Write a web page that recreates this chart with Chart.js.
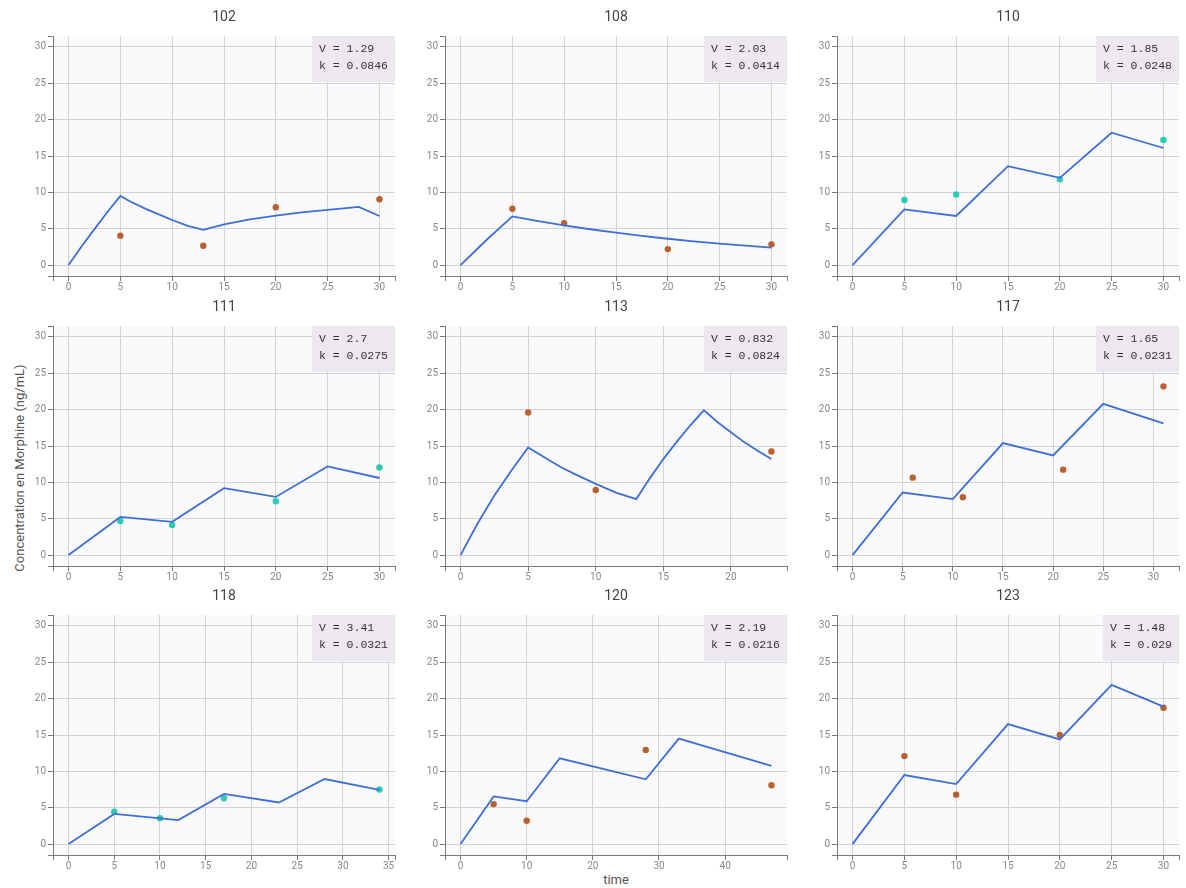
<!DOCTYPE html>
<html>
<head>
<meta charset="utf-8">
<script src="https://cdn.jsdelivr.net/npm/chart.js@4"></script>
<style>
  body { margin: 0; background: #fff; width: 1186px; height: 888px; position: relative; overflow: hidden; font-family: Roboto, sans-serif; }
  canvas.panel { position: absolute; }
  #ylab { position: absolute; left: 19px; top: 468px; transform: translate(-50%, -50%) rotate(-90deg); white-space: nowrap; font-size: 13px; color: #555; }
  #xlab { position: absolute; left: 616px; top: 879px; transform: translate(-50%, -50%); font-size: 13px; color: #555; }
</style>
</head>
<body>
<div id="ylab">Concentration en Morphine (ng/mL)</div>
<div id="xlab">time</div>
<script>
// panel ids and fitted parameters
const ids = ['102', '108', '110', '111', '113', '117', '118', '120', '123'];
const paramV = ['1.29', '2.03', '1.85', '2.7', '0.832', '1.65', '3.41', '2.19', '1.48'];
const paramK = ['0.0846', '0.0414', '0.0248', '0.0275', '0.0824', '0.0231', '0.0321', '0.0216', '0.029'];

// model curve (blue line)
const predT = [
  [0, 1.25, 2.5, 3.75, 5, 6, 7.5, 9, 10, 11.5, 13, 15, 17.5, 20, 22.5, 25, 28, 30],
  [0, 2.5, 5, 7.5, 10, 12.5, 15, 17.5, 20, 22.5, 25, 27.5, 30],
  [0, 5, 10, 15, 20, 25, 30],
  [0, 5, 10, 15, 20, 25, 30],
  [0, 1.25, 2.5, 3.75, 5, 6.5, 7.5, 8.5, 10, 11.5, 13, 14, 15, 16, 17, 18, 19, 20, 21, 22, 23],
  [0, 5, 10, 15, 20, 25, 31],
  [0, 5, 12, 17, 23, 28, 34],
  [0, 5, 10, 15, 28, 33, 47],
  [0, 5, 10, 15, 20, 25, 30]
];
const predC = [
  [0, 2.55, 4.95, 7.3, 9.5, 8.7, 7.7, 6.8, 6.2, 5.4, 4.85, 5.6, 6.3, 6.8, 7.25, 7.6, 8.0, 6.75],
  [0, 3.45, 6.7, 6.05, 5.45, 4.93, 4.45, 4.02, 3.62, 3.27, 2.95, 2.67, 2.4],
  [0, 7.65, 6.75, 13.6, 12.0, 18.2, 16.1],
  [0, 5.25, 4.58, 9.2, 8.0, 12.2, 10.6],
  [0, 4.3, 8.2, 11.6, 14.8, 13.1, 12.0, 11.1, 9.8, 8.6, 7.7, 10.55, 13.2, 15.6, 17.85, 19.9, 18.3, 16.9, 15.5, 14.3, 13.2],
  [0, 8.6, 7.7, 15.4, 13.7, 20.8, 18.1],
  [0, 4.15, 3.3, 6.9, 5.72, 8.95, 7.45],
  [0, 6.55, 5.9, 11.8, 8.9, 14.5, 10.75],
  [0, 9.5, 8.25, 16.5, 14.4, 21.9, 18.9]
];

// observations (dots)
const obsT = [
  [5, 13, 20, 30],
  [5, 10, 20, 30],
  [5, 10, 20, 30],
  [5, 10, 20, 30],
  [5, 10, 23],
  [6, 11, 21, 31],
  [5, 10, 17, 34],
  [5, 10, 28, 47],
  [5, 10, 20, 30]
];
const obsC = [
  [4.05, 2.65, 7.95, 9.05],
  [7.75, 5.75, 2.2, 2.85],
  [8.95, 9.7, 11.8, 17.2],
  [4.7, 4.15, 7.4, 12.05],
  [19.6, 8.95, 14.25],
  [10.65, 7.95, 11.75, 23.2],
  [4.45, 3.55, 6.3, 7.5],
  [5.5, 3.2, 12.95, 8.1],
  [12.1, 6.8, 15.0, 18.75]
];
const obsGroup = ['a', 'a', 'b', 'b', 'a', 'a', 'b', 'a', 'a'];

// axes
const xMax = [30, 30, 30, 30, 23, 31, 34, 47, 30];
const xTicks = [
  [0, 5, 10, 15, 20, 25, 30],
  [0, 5, 10, 15, 20, 25, 30],
  [0, 5, 10, 15, 20, 25, 30],
  [0, 5, 10, 15, 20, 25, 30],
  [0, 5, 10, 15, 20],
  [0, 5, 10, 15, 20, 25, 30],
  [0, 5, 10, 15, 20, 25, 30, 35],
  [0, 10, 20, 30, 40],
  [0, 5, 10, 15, 20, 25, 30]
];
const yTicks = [0, 5, 10, 15, 20, 25, 30];
const yMax = 30;

const groupColor = { a: '#b8602f', b: '#2dcbb5' };
const gridColor = '#d4d4d4';
const axisColor = '#7a7a7a';

// plot background, title and the V / k box
const panelDecor = {
  id: 'panelDecor',
  beforeDraw(chart, args, opts) {
    const { ctx, chartArea: a } = chart;
    ctx.save();
    ctx.fillStyle = '#fafafd';
    ctx.fillRect(a.left, a.top, a.right - a.left, a.bottom - a.top);
    ctx.restore();
  },
  afterDraw(chart, args, opts) {
    const { ctx, chartArea: a } = chart;
    ctx.save();
    ctx.font = '14px Roboto';
    ctx.fillStyle = '#444';
    ctx.textAlign = 'center';
    ctx.textBaseline = 'middle';
    ctx.fillText(opts.title, (a.left + a.right) / 2, 17);

    ctx.font = '11.5px "Courier New", "Liberation Mono", monospace';
    const w = Math.max(...opts.lines.map(l => ctx.measureText(l).width)) + 14;
    ctx.fillStyle = '#ede8ef';
    ctx.fillRect(a.right - w, a.top, w, 46);
    ctx.fillStyle = '#333';
    ctx.textAlign = 'left';
    opts.lines.forEach((l, i) => ctx.fillText(l, a.right - w + 7, a.top + 13 + i * 17));
    ctx.restore();
  }
};

function edgeAware(list) {
  return c => (c.tick && list.includes(c.tick.value)) ? gridColor : 'rgba(0,0,0,0)';
}

const rowTop = [0, 290, 579];

ids.forEach((id, i) => {
  const col = i % 3, row = Math.floor(i / 3);
  const cv = document.createElement('canvas');
  cv.className = 'panel';
  cv.width = 400; cv.height = 290;
  cv.style.left = (392 * col) + 'px';
  cv.style.top = rowTop[row] + 'px';
  document.body.appendChild(cv);

  const xt = xTicks[i];
  new Chart(cv.getContext('2d'), {
    data: {
      datasets: [
        {
          type: 'line',
          data: predT[i].map((t, j) => ({ x: t, y: predC[i][j] })),
          borderColor: '#3d6fd8',
          borderWidth: 1.8,
          pointRadius: 0,
          tension: 0
        },
        {
          type: 'scatter',
          data: obsT[i].map((t, j) => ({ x: t, y: obsC[i][j] })),
          backgroundColor: groupColor[obsGroup[i]],
          borderWidth: 0,
          pointRadius: 3.2
        }
      ]
    },
    options: {
      responsive: false,
      animation: false,
      devicePixelRatio: 1,
      layout: { padding: { left: 13, right: 5, top: 36, bottom: 0 } },
      plugins: {
        legend: { display: false },
        tooltip: { enabled: false },
        panelDecor: { title: id, lines: ['V = ' + paramV[i], 'k = ' + paramK[i]] }
      },
      scales: {
        x: {
          type: 'linear',
          min: -0.05 * xMax[i],
          max: 1.05 * xMax[i],
          afterBuildTicks: s => { s.ticks = [s.min, ...xt, s.max].map(v => ({ value: v })); },
          afterFit: s => { s.height = 14; },
          grid: { color: edgeAware(xt), tickColor: axisColor, tickLength: 5, lineWidth: 1 },
          border: { color: axisColor },
          ticks: {
            autoSkip: false, maxRotation: 0, padding: 0,
            callback: v => xt.includes(v) ? String(v) : '',
            color: '#888', font: { size: 10, family: 'Roboto' }
          }
        },
        y: {
          type: 'linear',
          min: -0.05 * yMax,
          max: 1.05 * yMax,
          afterBuildTicks: s => { s.ticks = [s.min, ...yTicks, s.max].map(v => ({ value: v })); },
          afterFit: s => { s.width = 40; },
          grid: { color: edgeAware(yTicks), tickColor: axisColor, tickLength: 5, lineWidth: 1 },
          border: { color: axisColor },
          ticks: {
            autoSkip: false, padding: 2,
            callback: v => yTicks.includes(v) ? String(v) : '',
            color: '#888', font: { size: 10, family: 'Roboto' }
          }
        }
      }
    },
    plugins: [panelDecor]
  });
});
</script>
</body>
</html>
